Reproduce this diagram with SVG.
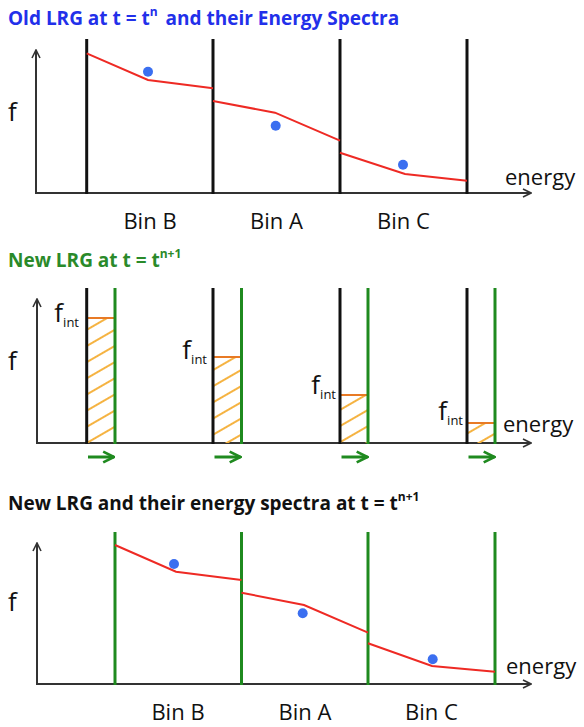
<svg xmlns="http://www.w3.org/2000/svg" width="584" height="727" viewBox="0 0 584 727">
<defs>
<style>
.ax{stroke:#333;stroke-width:2;fill:none}
.bk{stroke:#111;stroke-width:3}
.gn{stroke:#1f8a1f;stroke-width:3}
.rd{stroke:#ee2a24;stroke-width:2;fill:none}
.dot{fill:#3b6ff0}
.lbl{font-family:"Open Sans","Liberation Sans",sans-serif;font-size:22px;fill:#111}
.fl{font-family:"Open Sans","Liberation Sans",sans-serif;font-size:26px;fill:#111}
.ttl{font-family:"Open Sans","Liberation Sans",sans-serif;font-weight:bold;font-size:19px}
.fi{font-family:"Open Sans","Liberation Sans",sans-serif;font-size:26px;fill:#111}
.hb{fill:url(#hatch)}
.top{stroke:#e87a25;stroke-width:2}
.mv{stroke:#1f8a1f;stroke-width:3;fill:none}
</style>
<marker id="ah" viewBox="0 0 10 10" refX="9" refY="5" markerWidth="5" markerHeight="5" orient="auto" markerUnits="strokeWidth">
<path d="M1,1 L9,5 L1,9" fill="none" stroke="#333" stroke-width="1.6"/>
</marker>
<marker id="gah" viewBox="0 0 10 10" refX="9" refY="5" markerWidth="4.5" markerHeight="4.5" orient="auto" markerUnits="strokeWidth">
<path d="M1,1 L9,5 L1,9" fill="none" stroke="#1f8a1f" stroke-width="2"/>
</marker>
<pattern id="hatch" patternUnits="userSpaceOnUse" width="20" height="14" patternTransform="rotate(-30)">
<line x1="0" y1="7" x2="20" y2="7" stroke="#f5b342" stroke-width="2"/>
</pattern>
</defs>
<rect width="584" height="727" fill="#fff"/>

<!-- Panel 1 -->
<g id="panel1">
<text class="ttl" x="8" y="25" fill="#2230ea">Old LRG at t = t<tspan font-size="12" dy="-9">n</tspan><tspan dy="9" dx="3"> and their Energy Spectra</tspan></text>
<g id="p1-axes">
<path class="ax" d="M36,193 L36,50" marker-end="url(#ah)"/>
<path class="ax" d="M35,193 L531,193" marker-end="url(#ah)"/>
<text class="fl" x="8" y="121">f</text>
<text class="lbl" x="505" y="185">energy</text>
</g>
<g id="p1-binB"><line class="bk" x1="86.7" y1="39" x2="86.7" y2="194"/><text class="lbl" x="150" y="229" text-anchor="middle">Bin B</text><circle class="dot" cx="148" cy="71.7" r="5"/></g>
<g id="p1-binA"><line class="bk" x1="213" y1="39" x2="213" y2="194"/><text class="lbl" x="276.5" y="229" text-anchor="middle">Bin A</text><circle class="dot" cx="275.7" cy="125.7" r="5"/></g>
<g id="p1-binC"><line class="bk" x1="340" y1="39" x2="340" y2="194"/><text class="lbl" x="403.5" y="229" text-anchor="middle">Bin C</text><circle class="dot" cx="403" cy="164.7" r="5"/></g>
<g id="p1-edge"><line class="bk" x1="467" y1="39" x2="467" y2="194"/></g>
</g>

<!-- Panel 2 -->
<g id="panel2">
<text class="ttl" x="8" y="267" fill="#2a8a2a">New LRG at t = t<tspan font-size="12" dy="-9">n+1</tspan></text>
<g id="p2-axes">
<path class="ax" d="M37,443 L37,299" marker-end="url(#ah)"/>
<path class="ax" d="M36,443 L531,443" marker-end="url(#ah)"/>
<text class="fl" x="8" y="370">f</text>
<text class="lbl" x="503" y="432">energy</text>
</g>
<g id="p2-bin1">
<rect class="hb" x="86.7" y="318" width="28.3" height="125"/>
<line class="top" x1="86.7" y1="318" x2="115" y2="318"/>
<line class="bk" x1="86.7" y1="288" x2="86.7" y2="444"/>
<line class="gn" x1="115" y1="288" x2="115" y2="444"/>
<text class="fi" x="79" y="322" text-anchor="end">f<tspan font-size="13" dy="5">int</tspan></text>
</g>
<g id="p2-bin2">
<rect class="hb" x="213" y="357" width="28.5" height="86"/>
<line class="top" x1="213" y1="357" x2="241.5" y2="357"/>
<line class="bk" x1="213" y1="288" x2="213" y2="444"/>
<line class="gn" x1="241.5" y1="288" x2="241.5" y2="444"/>
<text class="fi" x="207" y="359" text-anchor="end">f<tspan font-size="13" dy="5">int</tspan></text>
</g>
<g id="p2-bin3">
<rect class="hb" x="340" y="395" width="28" height="48"/>
<line class="top" x1="340" y1="395" x2="368" y2="395"/>
<line class="bk" x1="340" y1="288" x2="340" y2="444"/>
<line class="gn" x1="368" y1="288" x2="368" y2="444"/>
<text class="fi" x="336" y="394" text-anchor="end">f<tspan font-size="13" dy="5">int</tspan></text>
</g>
<g id="p2-bin4">
<rect class="hb" x="467" y="423" width="28" height="20"/>
<line class="top" x1="467" y1="423" x2="495" y2="423"/>
<line class="bk" x1="467" y1="288" x2="467" y2="444"/>
<line class="gn" x1="495" y1="288" x2="495" y2="444"/>
<text class="fi" x="463" y="420" text-anchor="end">f<tspan font-size="13" dy="5">int</tspan></text>
</g>
</g>

<!-- Panel 3 -->
<g id="panel3">
<text class="ttl" x="8" y="510" fill="#111">New LRG and their energy spectra at t = t<tspan font-size="12" dy="-9">n+1</tspan></text>
<g id="p3-axes">
<path class="ax" d="M37,684 L37,543" marker-end="url(#ah)"/>
<path class="ax" d="M36,684 L531,684" marker-end="url(#ah)"/>
<text class="fl" x="8" y="611">f</text>
<text class="lbl" x="506" y="674">energy</text>
</g>
<g id="p3-binB"><line class="gn" x1="115" y1="532" x2="115" y2="685"/><text class="lbl" x="178" y="720" text-anchor="middle">Bin B</text><circle class="dot" cx="174" cy="564" r="5"/></g>
<g id="p3-binA"><line class="gn" x1="241.5" y1="532" x2="241.5" y2="685"/><text class="lbl" x="305" y="720" text-anchor="middle">Bin A</text><circle class="dot" cx="302.7" cy="613.3" r="5"/></g>
<g id="p3-binC"><line class="gn" x1="368" y1="532" x2="368" y2="685"/><text class="lbl" x="431.5" y="720" text-anchor="middle">Bin C</text><circle class="dot" cx="432.7" cy="659.3" r="5"/></g>
<g id="p3-edge"><line class="gn" x1="495" y1="532" x2="495" y2="685"/></g>
</g>

<g id="connectors">
<polyline class="rd" points="86.7,53.3 148,80 213,88.3"/>
<polyline class="rd" points="213,101 275,112.7 340,140.7"/>
<polyline class="rd" points="340,152.7 405,174 467,180.7"/>
<path class="mv" d="M88,457 L114,457" marker-end="url(#gah)"/>
<path class="mv" d="M214.5,457 L240.5,457" marker-end="url(#gah)"/>
<path class="mv" d="M341.5,457 L367.5,457" marker-end="url(#gah)"/>
<path class="mv" d="M468.5,457 L494.5,457" marker-end="url(#gah)"/>
<polyline class="rd" points="115,545 176,571.7 241.5,580"/>
<polyline class="rd" points="241.5,592.7 304,605 368,632.7"/>
<polyline class="rd" points="368,643.3 432,666 495,671.7"/>
</g>
</svg>
